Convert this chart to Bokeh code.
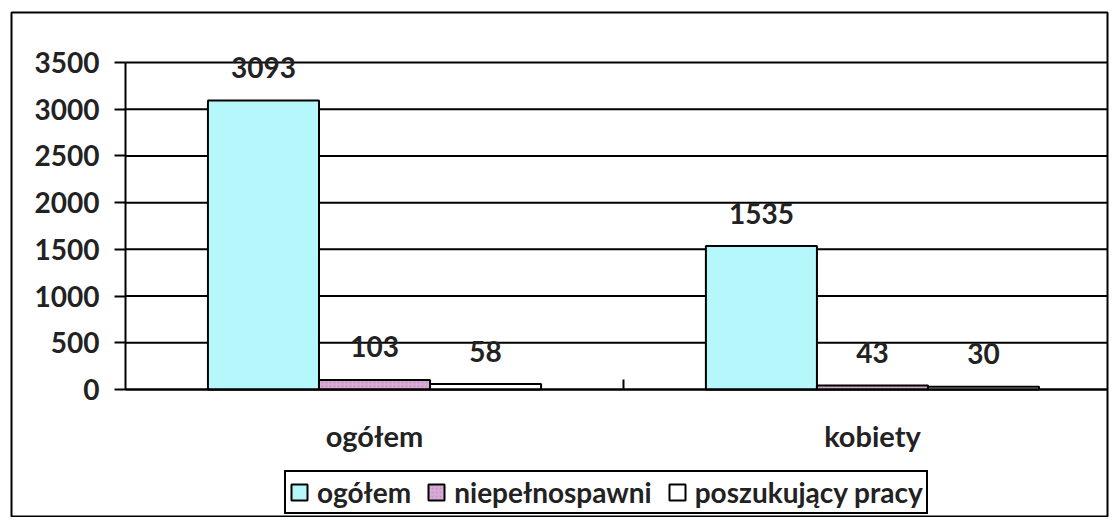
from bokeh.plotting import figure
from bokeh.models import Range1d, FixedTicker, Legend, LegendItem, ColumnDataSource
from bokeh.transform import dodge
from bokeh.core.properties import value
from bokeh.embed import file_html
from bokeh.resources import INLINE

# ---- data ----
categories = ["ogółem", "kobiety"]
series_names = ["ogółem", "niepełnospawni", "poszukujący pracy"]
ogolem = [3093, 1535]
niepelnosprawni = [103, 43]
poszukujacy = [58, 30]
y_ticks = [0, 500, 1000, 1500, 2000, 2500, 3000, 3500]

FONT = value("Lato")
colors = ["#b6f7fb", "#d8aad6", "#ffffff"]

xc = [i + 0.5 for i in range(len(categories))]
src = ColumnDataSource(dict(
    x=xc,
    s0=ogolem, s1=niepelnosprawni, s2=poszukujacy,
    t0=[str(v) for v in ogolem], t1=[str(v) for v in niepelnosprawni],
    t2=[str(v) for v in poszukujacy],
))

W, H = 1109, 517
X_END = 1.972
Y_TOP = y_ticks[-1]
# frame = outer chart box; axes are placed inside it at fixed locations
p = figure(width=W, height=H, output_backend="svg", toolbar_location=None,
           title=None,
           x_range=Range1d(-0.229, X_END), y_range=Range1d(-1359, 4035),
           min_border_left=11, min_border_top=12, min_border_right=2,
           min_border_bottom=1)
p.outline_line_color = "black"
p.outline_line_width = 2
p.background_fill_color = "white"
p.border_fill_color = "white"
p.xgrid.grid_line_color = None
p.ygrid.grid_line_color = None

# horizontal grid lines spanning the category area
p.segment(x0=0, x1=X_END, y0=y_ticks, y1=y_ticks, line_color="black", line_width=2)

bw = 0.223
offsets = [-bw, 0.0, bw]
renderers = []
for k, (off, col) in enumerate(zip(offsets, colors)):
    kw = {}
    if k == 1:
        kw = dict(hatch_pattern="dot", hatch_color="#9a6a9a", hatch_scale=4,
                  hatch_alpha=0.35)
    r = p.vbar(x=dodge("x", off), top="s%d" % k, bottom=0, width=bw, source=src,
               fill_color=col, line_color="black", line_width=2, **kw)
    renderers.append(r)
    p.text(x=dodge("x", off), y="s%d" % k, text="t%d" % k, source=src,
           y_offset=-33, text_align="center", text_baseline="middle",
           text_font=FONT, text_font_style="bold", text_font_size="28px",
           text_color="#222222")

# y axis at x = 0
p.yaxis.fixed_location = 0
p.yaxis.bounds = (0, Y_TOP)
p.yaxis.ticker = FixedTicker(ticks=y_ticks)
p.yaxis.axis_line_color = "black"
p.yaxis.axis_line_width = 2
p.yaxis.major_tick_in = 0
p.yaxis.major_tick_out = 11
p.yaxis.major_tick_line_width = 2
p.yaxis.minor_tick_line_color = None
p.yaxis.major_label_text_font = "Lato"
p.yaxis.major_label_text_font_style = "bold"
p.yaxis.major_label_text_font_size = "28px"
p.yaxis.major_label_text_color = "#222222"
p.yaxis.major_label_standoff = 15

# x axis at y = 0: category labels at centres, separator tick between categories
p.xaxis.fixed_location = 0
p.xaxis.bounds = (0, X_END)
p.xaxis.ticker = FixedTicker(ticks=xc, minor_ticks=[i for i in range(1, len(categories))])
p.xaxis.major_label_overrides = {x: c for x, c in zip(xc, categories)}
p.xaxis.axis_line_color = "black"
p.xaxis.axis_line_width = 2
p.xaxis.major_tick_in = 0
p.xaxis.major_tick_out = 0
p.xaxis.minor_tick_in = 10
p.xaxis.minor_tick_out = 0
p.xaxis.minor_tick_line_width = 2
p.xaxis.minor_tick_line_color = "black"
p.xaxis.major_label_text_font = "Lato"
p.xaxis.major_label_text_font_style = "bold"
p.xaxis.major_label_text_font_size = "29px"
p.xaxis.major_label_text_color = "#222222"
p.xaxis.major_label_standoff = 28

# legend inside the outer box, near its bottom
legend = Legend(items=[LegendItem(label=n, renderers=[r]) for n, r in zip(series_names, renderers)],
                orientation="horizontal", location=(273, 2))
legend.border_line_color = "black"
legend.border_line_width = 2
legend.border_line_alpha = 1
legend.background_fill_color = "white"
legend.background_fill_alpha = 1
legend.label_text_font = "Lato"
legend.label_text_font_style = "bold"
legend.label_text_font_size = "28px"
legend.label_text_color = "#222222"
legend.glyph_width = 20
legend.glyph_height = 20
legend.label_standoff = 8
legend.spacing = 15
legend.padding = 3
legend.margin = 0
p.add_layout(legend, "center")

open("out.html", "w").write(file_html(p, INLINE))
